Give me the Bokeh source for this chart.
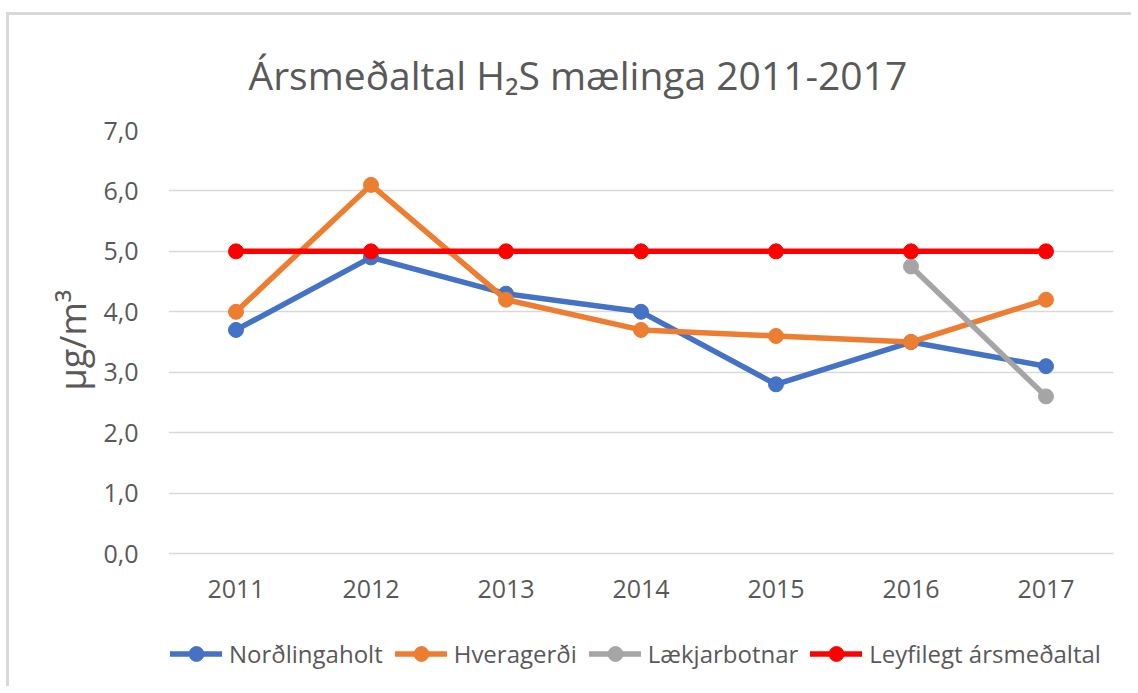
from bokeh.plotting import figure
from bokeh.models import FixedTicker, Legend, LegendItem, Title, Range1d, CategoricalAxis
from bokeh.embed import file_html
from bokeh.resources import INLINE

years = ["2011", "2012", "2013", "2014", "2015", "2016", "2017"]
nordlingaholt = [3.7, 4.9, 4.3, 4.0, 2.8, 3.5, 3.1]
hveragerdi = [4.0, 6.1, 4.2, 3.7, 3.6, 3.5, 4.2]
laekjarbotnar_years = ["2016", "2017"]
laekjarbotnar = [4.75, 2.6]
leyfilegt = [5.0, 5.0, 5.0, 5.0, 5.0, 5.0, 5.0]
y_ticks = [0, 1, 2, 3, 4, 5, 6, 7]
y_tick_labels = ["0,0", "1,0", "2,0", "3,0", "4,0", "5,0", "6,0", "7,0"]

FONT = "Open Sans"
TXT = "#595959"

# frame extends below y=0 so that the legend row lies inside it
p = figure(x_range=years, y_range=Range1d(-2.2, 7), frame_width=945, frame_height=556,
           output_backend="svg", toolbar_location=None, x_axis_location=None,
           min_border_left=159, min_border_right=18,
           min_border_top=115, min_border_bottom=0)
p.styles = {"border-left": "3px solid #D9D9D9", "border-top": "3px solid #D9D9D9",
            "margin-top": "12px", "margin-left": "6px"}
p.outline_line_color = None
p.background_fill_color = "white"

p.title = Title(text="Ársmeðaltal H₂S mælinga 2011-2017", align="left",
                text_font=FONT, text_font_size="39px", text_font_style="normal",
                text_color=TXT, offset=80, standoff=60)

xaxis = CategoricalAxis(fixed_location=0)
p.add_layout(xaxis, "below")

p.xgrid.grid_line_color = None
p.ygrid.grid_line_color = "#D9D9D9"
p.ygrid.grid_line_width = 1.5
p.yaxis.ticker = FixedTicker(ticks=y_ticks)
p.yaxis.major_label_overrides = {t: l for t, l in zip(y_ticks, y_tick_labels)}

for ax in (xaxis, p.yaxis[0]):
    ax.axis_line_color = None
    ax.major_tick_line_color = None
    ax.minor_tick_line_color = None
    ax.major_label_text_font = FONT
    ax.major_label_text_font_size = "25px"
    ax.major_label_text_color = TXT
xaxis.major_label_standoff = 20
p.yaxis.major_label_standoff = 24

# y-axis unit label, placed alongside the 0-7 part of the axis
ylabel = Title(text="µg/m³", align="left", offset=296, standoff=8,
               text_font=FONT, text_font_size="36px", text_font_style="normal",
               text_color=TXT)
p.add_layout(ylabel, "left")

series = [
    ("Norðlingaholt", years, nordlingaholt, "#4472C4"),
    ("Hveragerði", years, hveragerdi, "#ED7D31"),
    ("Lækjarbotnar", laekjarbotnar_years, laekjarbotnar, "#A5A5A5"),
    ("Leyfilegt ársmeðaltal", years, leyfilegt, "#FF0000"),
]
items = []
for name, xs, ys, col in series:
    l = p.line(xs, ys, line_color=col, line_width=5.5, line_cap="round", line_join="round")
    s = p.scatter(xs, ys, size=15, fill_color=col, line_color=col)
    items.append(LegendItem(label=name, renderers=[l, s]))

legend = Legend(items=items, orientation="horizontal", location=(2, 14),
                glyph_width=52, glyph_height=37, label_standoff=7, spacing=12,
                padding=0, margin=0, border_line_color=None, background_fill_alpha=0,
                label_text_font=FONT, label_text_font_size="24px", label_text_color=TXT)
p.add_layout(legend, "center")

open("out.html", "w").write(file_html(p, INLINE))
